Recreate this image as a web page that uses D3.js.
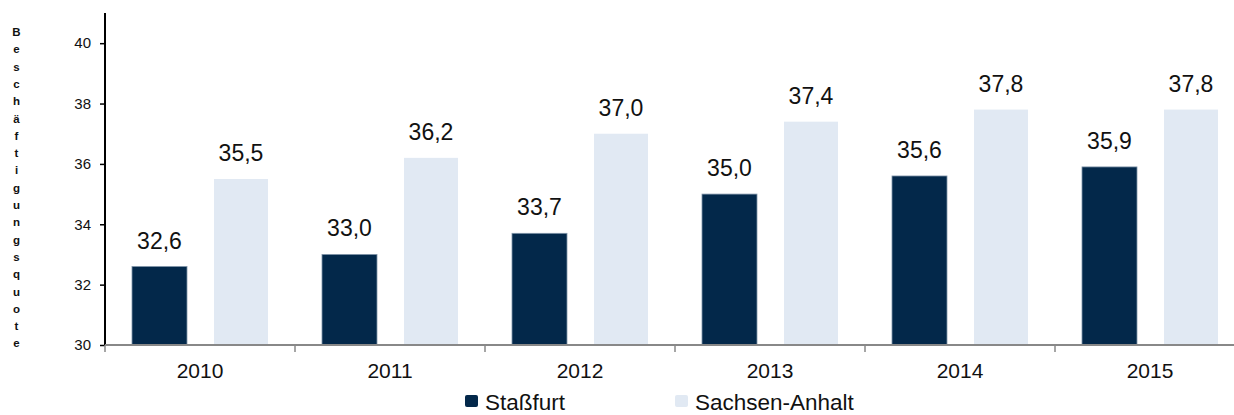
<!DOCTYPE html>
<html><head><meta charset="utf-8">
<script src="https://cdn.jsdelivr.net/npm/d3@7"></script>
<style>
html,body{margin:0;padding:0;background:#fff;}
svg{display:block;font-family:"Liberation Sans",Arial,sans-serif;}
</style></head>
<body><svg id="c" width="1234" height="415"></svg>
<script>
const years = ["2010","2011","2012","2013","2014","2015"];
const seriesNames = ["Staßfurt","Sachsen-Anhalt"];
const stassfurt = [32.6,33.0,33.7,35.0,35.6,35.9];
const sachsenAnhalt = [35.5,36.2,37.0,37.4,37.8,37.8];
const yTicks = [30,32,34,36,38,40];
const yTitle = "Beschäftigungsquote";
const colors = ["#03284a","#e1e9f3"];

const svg = d3.select("#c");
const x = d3.scaleBand().domain(years).range([105,1245]).paddingInner(0).paddingOuter(0);
const y = d3.scaleLinear().domain([30,41]).range([345,13]);
const fmt = v => d3.format(".1f")(v).replace(".",",");

// bars
const series = [stassfurt, sachsenAnhalt];
const offsets = [27,109], widths=[55,54];
series.forEach((vals,si)=>{
  svg.append("g").selectAll("rect").data(vals).join("rect")
    .attr("x",(d,i)=>x(years[i])+offsets[si])
    .attr("width",widths[si])
    .attr("y",d=>y(d))
    .attr("height",d=>y(30)-y(d))
    .attr("fill",colors[si])
    .attr("stroke", si===0 ? "#7f93a8" : "none")
    .attr("stroke-width",0.8);
  svg.append("g").selectAll("text").data(vals).join("text")
    .attr("x",(d,i)=>x(years[i])+offsets[si]+widths[si]/2)
    .attr("y",d=>y(d)-18)
    .attr("text-anchor","middle")
    .attr("font-size","23px")
    .attr("fill","#111")
    .text(d=>fmt(d));
});

// y axis
const ya = svg.append("g").attr("transform","translate(105,0)")
  .call(d3.axisLeft(y).tickValues(yTicks).tickSize(5).tickPadding(9).tickFormat(d3.format("d")));
ya.select(".domain").attr("stroke","#000").attr("stroke-width",2).attr("d","M0,13V345");
ya.selectAll(".tick line").attr("stroke","#000").attr("stroke-width",1.5);
ya.selectAll(".tick text").attr("font-size","15px").attr("fill","#111").attr("font-family","Liberation Sans, Arial, sans-serif");

// x axis
const xa = svg.append("g").attr("transform","translate(0,345)")
  .call(d3.axisBottom(x).tickSize(0).tickPadding(18));
xa.select(".domain").attr("stroke","#888").attr("stroke-width",2).attr("d","M105,0H1245");
xa.selectAll(".tick text").attr("font-size","21px").attr("fill","#111").attr("font-family","Liberation Sans, Arial, sans-serif");
svg.append("g").selectAll("line").data(years).join("line")
  .attr("x1",d=>x(d)).attr("x2",d=>x(d)).attr("y1",345).attr("y2",352)
  .attr("stroke","#888").attr("stroke-width",1.5);

// y title stacked letters
svg.append("g").selectAll("text").data(Array.from(yTitle)).join("text")
  .attr("x",16.5).attr("y",(d,i)=>36+i*17.3)
  .attr("text-anchor","middle")
  .attr("font-size","11.5px").attr("font-weight","bold").attr("fill","#111")
  .text(d=>d);

// legend
const legX = [465,675];
seriesNames.forEach((n,i)=>{
  svg.append("rect").attr("x",legX[i]).attr("y",395).attr("width",13).attr("height",12)
    .attr("rx",2).attr("fill",colors[i]);
  svg.append("text").attr("x",legX[i]+20).attr("y",410).attr("font-size","22.5px").attr("fill","#111").text(n);
});
</script></body></html>
